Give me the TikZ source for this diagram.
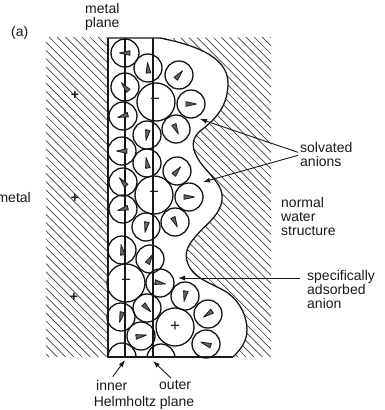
\documentclass[tikz,border=0pt]{standalone}
\usepackage{fontspec}
\setmainfont{Liberation Sans}
\usetikzlibrary{arrows.meta,calc}
\tikzset{
  hatchline/.style={draw=black!75,line width=0.65pt},
  wall/.style={line width=1.3pt,draw=black!90},
  plane/.style={line width=1.1pt,draw=black!90},
  solvent/.style={circle,draw=black!92,line width=1.3pt,minimum size=28pt,inner sep=0pt,outer sep=0pt},
  ionshell/.style={solvent,minimum size=38pt},
  dipole/.style={draw=black!90,fill=black!60,line width=0.8pt,line join=round},
  lab/.style={font=\fontsize{14}{14}\selectfont,text=black!90,inner sep=0pt,align=left},
  charge/.style={lab,font=\fontsize{17}{17}\selectfont},
  metalcharge/.style={lab,font=\fontsize{14}{14}\selectfont\bfseries},
  pointer/.style={draw=black!90,line width=0.9pt,-{Latex[length=7pt,width=5pt]}}
}
\begin{document}
\begin{tikzpicture}[x=1pt,y=-1pt]
\useasboundingbox (0,0) rectangle (385,410);
% solution side outline, used for the hatching and the boundary stroke
\def\boundary{(160,38) .. controls (190,44) and (228,55) .. (228,83)
  .. controls (228,104) and (218,118) .. (200,131)
  .. controls (190,140) and (192,150) .. (200,162)
  .. controls (212,178) and (224,186) .. (222,200)
  .. controls (220,216) and (204,226) .. (196,236)
  .. controls (186,247) and (183,256) .. (190,268)
  .. controls (197,280) and (214,284) .. (228,293)
  .. controls (240,302) and (247,316) .. (247,330)
  .. controls (247,342) and (240,350) .. (233,357)}
% hatching of the metal
\begin{scope}
  \clip (46,37) rectangle (108,357);
  \foreach \k in {-10,...,60}{
    \draw[hatchline] ({\k*8.2-320},37) -- ({\k*8.2},357);
  }
\end{scope}
% hatching of the bulk water
\begin{scope}
  \clip \boundary -- (271,357) -- (271,37) -- cycle;
  \foreach \k in {-10,...,80}{
    \draw[hatchline] ({\k*8.2-320},37) -- ({\k*8.2},357);
  }
\end{scope}
% molecules cut by the bottom edge
\begin{scope}
  \clip (100,30) rectangle (260,357);
  \node[solvent] (c30) at (122,357) {};
  \node[solvent] (c31) at (161,358) {};
\end{scope}
% planes and the outline of the double layer
\draw[plane] (108,38) -- (108,357);
\draw[plane] (125,38) -- (125,357);
\draw[plane] (153,38) -- (153,357);
\draw[wall] (108,38) -- \boundary;
\draw[wall] (108,357) -- (233,357);
% water molecules, the wedge tip pointing along the given angle
\foreach \n/\x/\y/\a in {
  c1/125/53/180, c2/148/68/95, c3/179/75/50, c4/125/87/130, c6/191/104/0,
  c7/123/116/195, c8/147/135/260, c9/176/129/295, c10/122/151/180,
  c11/147/163/100, c12/177/171/50, c13/123/182/130, c15/189/197/0,
  c16/123/209/195, c17/146/227/260, c18/175/222/295, c19/122/250/100,
  c20/150/259/60, c22/160/283/350, c23/185/296/260, c24/208/314/215,
  c26/121/317/255, c27/147/308/315, c28/141/336/10, c29/206/344/160}{
  \node[solvent] (\n) at (\x,\y) {};
  \fill[dipole] ($(\x,\y)+(-\a:5.5)$) -- ($(\x,\y)+(-\a+155:5.5)$) -- ($(\x,\y)+(-\a+205:5.5)$) -- cycle;
}
% central ions of the solvation shells
\node[ionshell] (c5) at (156,102) {};
\node[ionshell] (c14) at (154,195) {};
\node[ionshell] (c21) at (126,283) {};
\node[ionshell] (c25) at (175,327) {};
\node[charge] (m1) at (155,101) {−};
\node[charge] (m2) at (154,194) {−};
\node[charge] (m3) at (126,282) {−};
\node[charge] (p0) at (175,327) {+};
% charges in the metal
\node[metalcharge] (p1) at (75,95) {+};
\node[metalcharge] (p2) at (75,198) {+};
\node[metalcharge] (p3) at (74,297) {+};
% labels
\node[lab,anchor=west] (tag) at (11,33) {(a)};
\node[lab,anchor=north west] (mp) at (85,3) {metal\\plane};
\node[lab,anchor=east] (mt) at (31,197) {metal};
\node[lab,anchor=north west] (sa) at (300,142) {solvated\\anions};
\node[lab,anchor=north west] (nw) at (281,197) {normal\\water\\structure};
\node[lab,anchor=north west] (sp) at (307,270) {specifically\\adsorbed\\anion};
\node[lab,anchor=west] (in) at (96,385) {inner};
\node[lab,anchor=west] (ou) at (159,385) {outer};
\node[lab,anchor=center] (hp) at (144,403) {Helmholtz plane};
% pointers
\coordinate (t1) at (200,119);
\coordinate (t2) at (203,182);
\coordinate (t3) at (178,278);
\coordinate (t4) at (125,360);
\coordinate (t5) at (153,361);
\draw[pointer] ($(sa.west)+(-2,-2)$) -- (t1);
\draw[pointer] ($(sa.west)+(-2,1)$) -- (t2);
\draw[pointer] ($(sp.north west)+(-7,8)$) -- (t3);
\draw[pointer] ($(in.north)+(1,-3)$) -- (t4);
\draw[pointer] ($(ou.north)+(-4,-2)$) -- (t5);
\end{tikzpicture}
\end{document}
